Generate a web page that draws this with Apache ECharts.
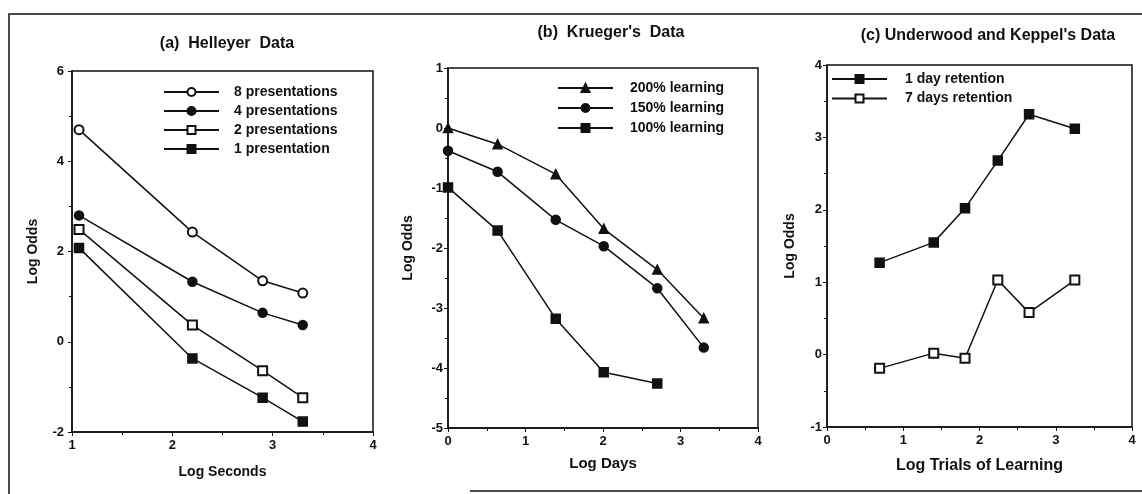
<!DOCTYPE html>
<html>
<head>
<meta charset="utf-8">
<script src="https://cdn.jsdelivr.net/npm/echarts@6/dist/echarts.min.js"></script>
<style>
  html, body { margin: 0; padding: 0; background: #fff; }
  #chart { width: 1142px; height: 494px; }
</style>
</head>
<body>
<div id="chart"></div>
<script>
// (a) Helleyer data
const helleyerX = [1.07, 2.2, 2.9, 3.3];
const helleyer8 = [4.7, 2.43, 1.35, 1.08];
const helleyer4 = [2.8, 1.33, 0.64, 0.37];
const helleyer2 = [2.49, 0.37, -0.64, -1.24];
const helleyer1 = [2.08, -0.37, -1.24, -1.77];

// (b) Krueger's data
const kruegerX = [0, 0.64, 1.39, 2.01, 2.7, 3.3];
const krueger200 = [0, -0.27, -0.77, -1.68, -2.36, -3.17];
const krueger150 = [-0.38, -0.73, -1.53, -1.97, -2.67, -3.66];
const krueger100 = [-0.99, -1.71, -3.18, -4.07, -4.26];

// (c) Underwood and Keppel's data
const ukX = [0.69, 1.4, 1.81, 2.24, 2.65, 3.25];
const uk1day = [1.27, 1.55, 2.02, 2.68, 3.32, 3.12];
const uk7days = [-0.19, 0.02, -0.05, 1.03, 0.58, 1.03];

const FONT = 'Liberation Sans, Arial, sans-serif';
const INK = '#111';

const zip = (xs, ys) => ys.map((y, i) => [xs[i], y]);

function xAxis(idx, min, max, name, gap, nameSize) {
  return {
    type: 'value', gridIndex: idx, min, max, interval: 1, name,
    nameLocation: 'middle', nameGap: gap,
    nameTextStyle: { fontFamily: FONT, fontWeight: 'bold', fontSize: nameSize, color: INK },
    axisLine: { onZero: false, lineStyle: { color: INK, width: 1.5 } },
    axisTick: { show: true, length: 4, lineStyle: { color: INK } },
    minorTick: { show: true, splitNumber: 2, length: 3, lineStyle: { color: INK } },
    splitLine: { show: false },
    axisLabel: { fontFamily: FONT, fontWeight: 'bold', fontSize: 13, color: INK, margin: 7 },
  };
}

function yAxis(idx, min, max, interval, gap, margin) {
  return {
    type: 'value', gridIndex: idx, min, max, interval, name: 'Log Odds',
    nameLocation: 'middle', nameGap: gap,
    nameTextStyle: { fontFamily: FONT, fontWeight: 'bold', fontSize: 14, color: INK },
    axisLine: { show: true, onZero: false, lineStyle: { color: INK, width: 1.5 } },
    axisTick: { show: true, length: 4, lineStyle: { color: INK } },
    minorTick: { show: true, splitNumber: 2, length: 3, lineStyle: { color: INK } },
    splitLine: { show: false },
    axisLabel: { fontFamily: FONT, fontWeight: 'bold', fontSize: 13, color: INK, margin },
  };
}

function line(name, idx, data, symbol) {
  return {
    type: 'line', name, xAxisIndex: idx, yAxisIndex: idx, data,
    symbol, symbolSize: 9, showAllSymbol: true,
    lineStyle: { color: INK, width: 1.5 },
    itemStyle: { color: INK, borderColor: INK, borderWidth: 1.5 },
    emphasis: { disabled: true },
  };
}

function legend(names, left, top, gap, textPad) {
  return {
    data: names, orient: 'vertical', left, top,
    itemWidth: 55, itemHeight: 10, itemGap: gap,
    textStyle: { fontFamily: FONT, fontWeight: 'bold', fontSize: 14, color: INK, lineHeight: 13, padding: [0, 0, 0, textPad] },
    selectedMode: false,
  };
}

const gridStyle = { show: true, borderColor: INK, borderWidth: 1.5, backgroundColor: 'transparent' };
const titleStyle = size => ({ fontFamily: FONT, fontWeight: 'bold', fontSize: size, color: INK });

const option = {
  backgroundColor: '#fff',
  animation: false,
  title: [
    { text: '(a)  Helleyer  Data', left: 222, top: 31, textAlign: 'center', textStyle: titleStyle(16) },
    { text: "(b)  Krueger's  Data", left: 606, top: 20, textAlign: 'center', textStyle: titleStyle(16) },
    { text: "(c) Underwood and Keppel's Data", left: 983, top: 23, textAlign: 'center', textStyle: titleStyle(16) },
  ],
  grid: [
    Object.assign({ left: 72, top: 71, width: 301, height: 361 }, gridStyle),
    Object.assign({ left: 448, top: 68, width: 310, height: 360 }, gridStyle),
    Object.assign({ left: 827, top: 65, width: 305, height: 362 }, gridStyle),
  ],
  xAxis: [
    xAxis(0, 1, 4, 'Log Seconds', 33, 14),
    xAxis(1, 0, 4, 'Log Days', 28, 15),
    xAxis(2, 0, 4, 'Log Trials of Learning', 31, 16),
  ],
  yAxis: [
    yAxis(0, -2, 6, 2, 32, 8),
    yAxis(1, -5, 1, 1, 33, 5),
    yAxis(2, -1, 4, 1, 30, 5),
  ],
  legend: [
    legend(['8 presentations', '4 presentations', '2 presentations', '1 presentation'], 158, 80, 5, 10),
    legend(['200% learning', '150% learning', '100% learning'], 552, 76, 6, 12),
    legend(['1 day retention', '7 days retention'], 826, 67, 5.6, 13),
  ],
  series: [
    line('8 presentations', 0, zip(helleyerX, helleyer8), 'emptyCircle'),
    line('4 presentations', 0, zip(helleyerX, helleyer4), 'circle'),
    line('2 presentations', 0, zip(helleyerX, helleyer2), 'emptyRect'),
    line('1 presentation', 0, zip(helleyerX, helleyer1), 'rect'),
    line('200% learning', 1, zip(kruegerX, krueger200), 'triangle'),
    line('150% learning', 1, zip(kruegerX, krueger150), 'circle'),
    line('100% learning', 1, zip(kruegerX, krueger100), 'rect'),
    line('1 day retention', 2, zip(ukX, uk1day), 'rect'),
    line('7 days retention', 2, zip(ukX, uk7days), 'emptyRect'),
  ],
  graphic: [
    { type: 'polyline', shape: { points: [[1142, 14], [9, 14], [9, 494]] },
      style: { stroke: INK, lineWidth: 1.5, fill: null } },
    { type: 'line', shape: { x1: 470, y1: 491, x2: 1142, y2: 491 },
      style: { stroke: INK, lineWidth: 1.5 } },
  ],
};

const chart = echarts.init(document.getElementById('chart'));
chart.setOption(option);
</script>
</body>
</html>
